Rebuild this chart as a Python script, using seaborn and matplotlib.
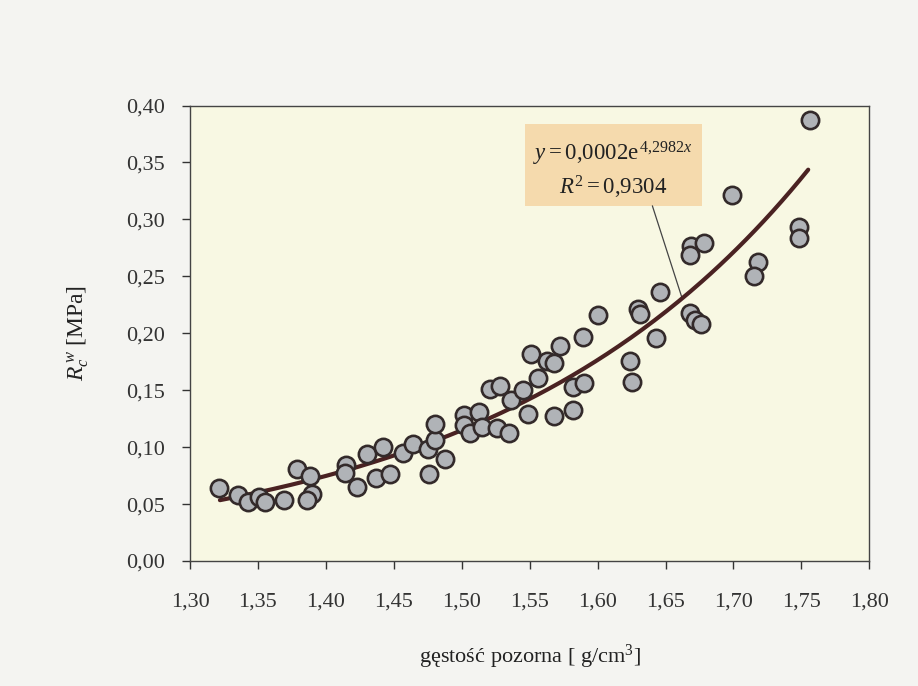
import numpy as np
import pandas as pd
import matplotlib
matplotlib.use("Agg")
import matplotlib.pyplot as plt
from matplotlib.ticker import FixedLocator, FuncFormatter
from matplotlib.patches import Rectangle
import seaborn as sns

# ---- data ----
density = [1.321, 1.335, 1.343, 1.351, 1.355, 1.369, 1.379, 1.388, 1.390, 1.386,
           1.415, 1.414, 1.423, 1.430, 1.442, 1.437, 1.447, 1.457, 1.464, 1.475,
           1.480, 1.480, 1.488, 1.476, 1.502, 1.502, 1.506, 1.513, 1.515, 1.521,
           1.528, 1.526, 1.535, 1.536, 1.545, 1.549, 1.551, 1.556, 1.563, 1.568,
           1.572, 1.568, 1.582, 1.590, 1.582, 1.589, 1.600, 1.624, 1.625, 1.643,
           1.630, 1.631, 1.646, 1.668, 1.672, 1.676, 1.669, 1.678, 1.668, 1.699,
           1.718, 1.715, 1.748, 1.748, 1.756]
strength = [0.064, 0.058, 0.052, 0.056, 0.052, 0.054, 0.081, 0.075, 0.059, 0.054,
            0.084, 0.077, 0.065, 0.094, 0.100, 0.073, 0.076, 0.095, 0.103, 0.098,
            0.106, 0.120, 0.090, 0.076, 0.128, 0.119, 0.112, 0.131, 0.118, 0.151,
            0.154, 0.117, 0.112, 0.141, 0.150, 0.129, 0.182, 0.161, 0.176, 0.174,
            0.189, 0.127, 0.153, 0.156, 0.133, 0.197, 0.216, 0.176, 0.157, 0.196,
            0.221, 0.217, 0.236, 0.218, 0.212, 0.208, 0.277, 0.279, 0.269, 0.321,
            0.263, 0.250, 0.293, 0.284, 0.387]

fit_a = 0.000182
fit_b = 4.2982
fit_x_range = (1.322, 1.755)

x_ticks = [1.30, 1.35, 1.40, 1.45, 1.50, 1.55, 1.60, 1.65, 1.70, 1.75, 1.80]
y_ticks = [0.00, 0.05, 0.10, 0.15, 0.20, 0.25, 0.30, 0.35, 0.40]

eq_text = r"$y = 0{,}0002\mathrm{e}^{\,4{,}2982x}$"
r2_text = r"$R^2 = 0{,}9304$"
x_label = r"gęstość pozorna [ g/cm$^3$]"
y_label = r"$R_c^{\,w}$ [MPa]"

# ---- styling ----
sns.set_theme(style="ticks")
plt.rcParams["font.family"] = ["Liberation Serif", "DejaVu Serif"]
plt.rcParams["mathtext.fontset"] = "custom"
plt.rcParams["mathtext.rm"] = "Liberation Serif"
plt.rcParams["mathtext.it"] = "Liberation Serif:italic"
plt.rcParams["mathtext.bf"] = "Liberation Serif:bold"

fig = plt.figure(figsize=(9.18, 6.86), dpi=100, facecolor="#f4f4f1")
ax = fig.add_axes([0.2070, 0.1822, 0.7400, 0.6640])
ax.set_facecolor("#f8f8e3")

df = pd.DataFrame({"density": density, "strength": strength})
fx = np.linspace(fit_x_range[0], fit_x_range[1], 200)
fit_df = pd.DataFrame({"density": fx, "strength": fit_a * np.exp(fit_b * fx)})

sns.lineplot(data=fit_df, x="density", y="strength", ax=ax, color="#4a2222",
             linewidth=3.0, zorder=3)
sns.scatterplot(data=df, x="density", y="strength", ax=ax, s=155,
                color="#b0b3b7", edgecolor="#332a2a", linewidth=1.9, zorder=4)

ax.set_xlim(1.30, 1.80)
ax.set_ylim(0.0, 0.40)
ax.xaxis.set_major_locator(FixedLocator(x_ticks))
ax.yaxis.set_major_locator(FixedLocator(y_ticks))
comma = FuncFormatter(lambda v, p: f"{v:.2f}".replace(".", ","))
ax.xaxis.set_major_formatter(comma)
ax.yaxis.set_major_formatter(comma)
ax.tick_params(axis="both", labelsize=16, colors="#333333", length=6, width=1.0,
               direction="out")
ax.tick_params(axis="x", pad=17)
ax.tick_params(axis="y", pad=12)
for sp in ax.spines.values():
    sp.set_color("#444444")
    sp.set_linewidth(1.0)
    sp.set_visible(True)

ax.set_xlabel(x_label, fontsize=16, color="#222222", labelpad=22)
ax.set_ylabel(y_label, fontsize=17, color="#222222", labelpad=25)

# annotation box with connector
box = Rectangle((1.5467, 0.312), 0.1303, 0.072, transform=ax.transData,
                facecolor="#f5d7a8", edgecolor="none", alpha=0.9, zorder=2)
ax.add_patch(box)
ax.plot([1.6403, 1.6624], [0.3119, 0.2300], color="#444444", linewidth=0.9, zorder=2)
ax.text(1.6115, 0.3575, eq_text, fontsize=16.5, ha="center", va="center",
        color="#222222", zorder=5)
ax.text(1.6115, 0.3280, r2_text, fontsize=16.5, ha="center", va="center",
        color="#222222", zorder=5)

fig.savefig("out.png", dpi=100, facecolor=fig.get_facecolor())
